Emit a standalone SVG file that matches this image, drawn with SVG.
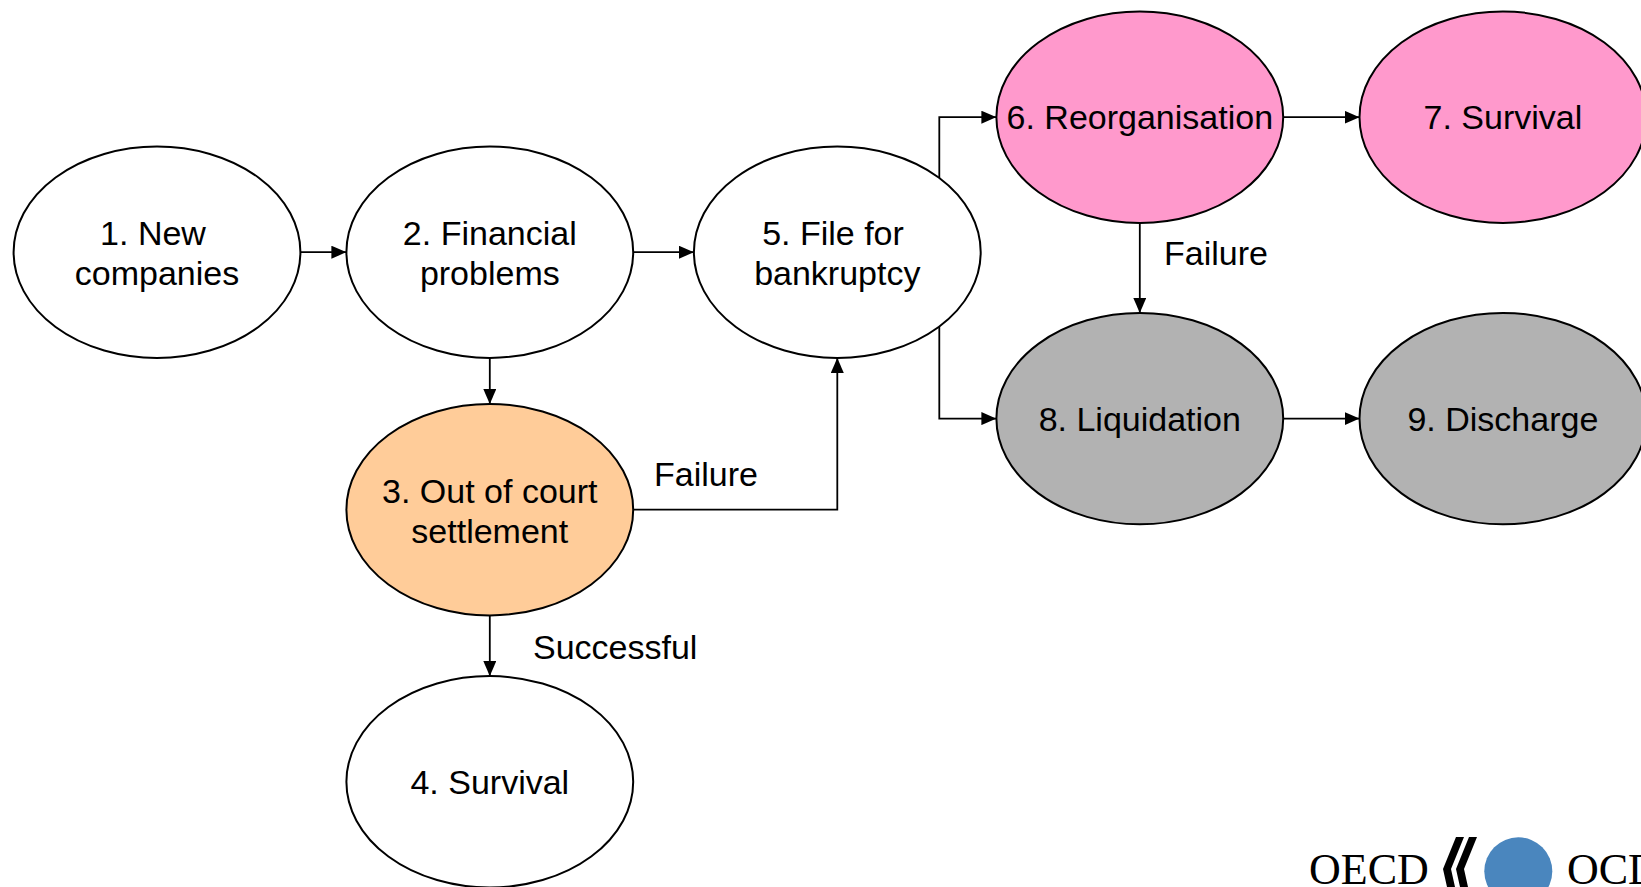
<svg xmlns="http://www.w3.org/2000/svg" width="1641" height="887" viewBox="0 0 1641 887">
  <defs>
    <style>
      .node { stroke: #000; stroke-width: 2; }
      .white { fill: #FFFFFF; }
      .orange { fill: #FFCC99; }
      .pink { fill: #FF99CC; }
      .gray { fill: #B2B2B2; }
      .lbl { font-family: "Liberation Sans", Arial, sans-serif; font-size: 34px; fill: #000; text-anchor: middle; }
      .elbl { font-family: "Liberation Sans", Arial, sans-serif; font-size: 34px; fill: #000; text-anchor: start; }
      .conn { fill: none; stroke: #000; stroke-width: 1.8; marker-end: url(#arrow); }
      .logo { font-family: "Liberation Serif", "Times New Roman", serif; font-size: 44px; fill: #000; }
    </style>
    <marker id="arrow" viewBox="0 0 15 13" refX="15" refY="6.5" markerWidth="15" markerHeight="13" markerUnits="userSpaceOnUse" orient="auto">
      <path d="M0,0 L15,6.5 L0,13 z" fill="#000"/>
    </marker>
  </defs>
  <rect x="0" y="0" width="1641" height="887" fill="#FFFFFF"/>

  <g id="connectors">
    <path class="conn" d="M300.4,252.2 H346.4"/>
    <path class="conn" d="M633.2,252.2 H693.9"/>
    <path class="conn" d="M489.8,357.9 V404"/>
    <path class="conn" d="M633.2,509.7 H837.3 V357.9"/>
    <path class="conn" d="M489.8,615.4 V676.1"/>
    <path class="conn" d="M939.3,178 V117.2 H996.4"/>
    <path class="conn" d="M939.3,326.5 V418.6 H996.4"/>
    <path class="conn" d="M1283.1,117.2 H1359.5"/>
    <path class="conn" d="M1139.8,222.9 V312.9"/>
    <path class="conn" d="M1283.1,418.6 H1359.5"/>
    <text class="elbl" x="654" y="486">Failure</text>
    <text class="elbl" x="533" y="659">Successful</text>
    <text class="elbl" x="1164" y="265">Failure</text>
  </g>

  <g id="node1">
    <ellipse class="node white" cx="157" cy="252.2" rx="143.4" ry="105.7"/>
    <text class="lbl" x="153" y="245">1. New</text>
    <text class="lbl" x="157" y="285">companies</text>
  </g>
  <g id="node2">
    <ellipse class="node white" cx="489.8" cy="252.2" rx="143.4" ry="105.7"/>
    <text class="lbl" x="489.8" y="245">2. Financial</text>
    <text class="lbl" x="489.8" y="285">problems</text>
  </g>
  <g id="node3">
    <ellipse class="node orange" cx="489.8" cy="509.7" rx="143.4" ry="105.7"/>
    <text class="lbl" x="489.8" y="502.5">3. Out of court</text>
    <text class="lbl" x="489.8" y="542.5">settlement</text>
  </g>
  <g id="node4">
    <ellipse class="node white" cx="489.8" cy="781.8" rx="143.4" ry="105.7"/>
    <text class="lbl" x="489.8" y="794">4. Survival</text>
  </g>
  <g id="node5">
    <ellipse class="node white" cx="837.3" cy="252.2" rx="143.4" ry="105.7"/>
    <text class="lbl" x="833" y="245">5. File for</text>
    <text class="lbl" x="837.3" y="285">bankruptcy</text>
  </g>
  <g id="node6">
    <ellipse class="node pink" cx="1139.8" cy="117.2" rx="143.4" ry="105.7"/>
    <text class="lbl" x="1139.8" y="129">6. Reorganisation</text>
  </g>
  <g id="node7">
    <ellipse class="node pink" cx="1502.9" cy="117.2" rx="143.4" ry="105.7"/>
    <text class="lbl" x="1502.9" y="129">7. Survival</text>
  </g>
  <g id="node8">
    <ellipse class="node gray" cx="1139.8" cy="418.6" rx="143.4" ry="105.7"/>
    <text class="lbl" x="1139.8" y="430.5">8. Liquidation</text>
  </g>
  <g id="node9">
    <ellipse class="node gray" cx="1502.9" cy="418.6" rx="143.4" ry="105.7"/>
    <text class="lbl" x="1502.9" y="430.5">9. Discharge</text>
  </g>

  <g id="oecd-logo">
    <text class="logo" x="1309" y="884">OECD</text>
    <polygon points="1456,837 1464,837 1451,869 1455,887 1447,887 1443,869" fill="#000"/>
    <polygon points="1469,837 1477,837 1464,869 1468,887 1460,887 1456,869" fill="#000"/>
    <circle cx="1518.3" cy="871.3" r="34" fill="#4A86BE"/>
    <text class="logo" x="1567" y="884">OCDE</text>
  </g>
</svg>
